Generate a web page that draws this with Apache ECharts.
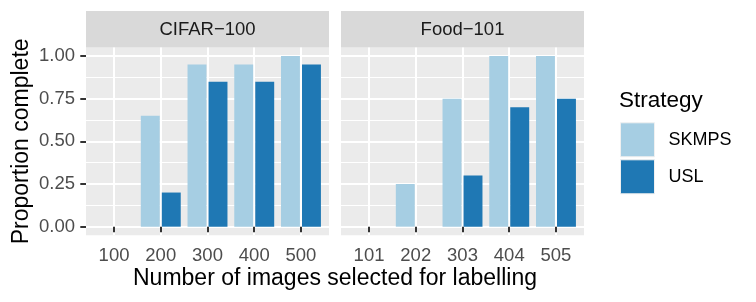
<!DOCTYPE html>
<html>
<head>
<meta charset="utf-8">
<script src="https://cdn.jsdelivr.net/npm/echarts@6/dist/echarts.min.js"></script>
<style>html,body{margin:0;padding:0;background:#fff}#c{width:756px;height:302px}</style>
</head>
<body>
<div id="c"></div>
<script>
// ---- data ----
const panelTitles = ['CIFAR\u2212100', 'Food\u2212101'];
const categoriesCifar = ['100', '200', '300', '400', '500'];
const categoriesFood = ['101', '202', '303', '404', '505'];
const skmpsCifar = [0, 0.65, 0.95, 0.95, 1.00];
const uslCifar = [0, 0.20, 0.85, 0.85, 0.95];
const skmpsFood = [0, 0.25, 0.75, 1.00, 1.00];
const uslFood = [0, 0, 0.30, 0.70, 0.75];
const strategies = ['SKMPS', 'USL'];
const xTitle = 'Number of images selected for labelling';
const yTitle = 'Proportion complete';
const legendTitle = 'Strategy';

// ---- layout ----
const FONT = 'Liberation Sans';
const colors = ['#A6CEE3', '#1F78B4'];
const panelLeft = [86, 341];
const panelW = 243;
const panelTop = 47.5;
const panelH = 187.7;
const unit = panelW / 5.2;
const lineTop = panelTop + panelH * 0.05 / 1.1;
const lineH = panelH / 1.1;
const barW = unit * 0.9 / 2 * 0.9;
const panelCats = [categoriesCifar, categoriesFood];
const panelData = [[skmpsCifar, uslCifar], [skmpsFood, uslFood]];

const grids = [], xAxes = [], yAxes = [], series = [];
panelLeft.forEach((L, p) => {
  // background grid with vertical grid lines
  grids.push({left: L, top: panelTop, width: panelW, height: panelH, show: true,
    backgroundColor: '#EBEBEB', borderWidth: 0});
  xAxes.push({gridIndex: 3 * p, type: 'value', min: 0.4, max: 5.6, minInterval: 1, maxInterval: 1,
    axisLine: {show: false}, axisTick: {show: false}, axisLabel: {show: false},
    splitLine: {show: true, showMinLine: false, showMaxLine: false, lineStyle: {color: '#FFFFFF', width: 2}}});
  yAxes.push({gridIndex: 3 * p, type: 'value', show: false});
  // horizontal grid lines + y axis
  grids.push({left: L, top: lineTop, width: panelW, height: lineH, show: false});
  xAxes.push({gridIndex: 3 * p + 1, type: 'value', show: false});
  yAxes.push({gridIndex: 3 * p + 1, type: 'value', min: 0, max: 1, interval: 0.25,
    axisLine: {show: false},
    axisTick: {show: p === 0, length: 5.7, lineStyle: {color: '#333333', width: 2}},
    axisLabel: {show: p === 0, color: '#4D4D4D', fontSize: 18.5, fontFamily: FONT, margin: 11,
      formatter: v => v.toFixed(2)},
    splitLine: {show: true, lineStyle: {color: '#FFFFFF', width: 2}},
    minorTick: {show: false, splitNumber: 2},
    minorSplitLine: {show: true, lineStyle: {color: '#FFFFFF', width: 1}}});
  // bar grid
  grids.push({left: L + 0.1 * unit, top: panelTop, width: 5 * unit, height: panelH, show: false});
  xAxes.push({gridIndex: 3 * p + 2, type: 'category', data: panelCats[p],
    axisLine: {show: false},
    axisTick: {show: true, alignWithLabel: true, length: 5.7, lineStyle: {color: '#333333', width: 2}},
    axisLabel: {color: '#4D4D4D', fontSize: 18.5, fontFamily: FONT, margin: 11},
    splitLine: {show: false}});
  yAxes.push({gridIndex: 3 * p + 2, type: 'value', min: -0.05, max: 1.05, show: false});
  strategies.forEach((s, k) => {
    series.push({type: 'bar', name: s, xAxisIndex: 3 * p + 2, yAxisIndex: 3 * p + 2,
      data: panelData[p][k], barWidth: barW, barGap: '11%',
      itemStyle: {color: colors[k]}, silent: true});
  });
});

const graphic = [];
panelLeft.forEach((L, p) => {
  graphic.push({type: 'rect', left: L, top: 11, shape: {width: panelW, height: panelTop - 11},
    style: {fill: '#D9D9D9'}, silent: true});
  graphic.push({type: 'text', x: L + panelW / 2, y: 30,
    style: {text: panelTitles[p], fill: '#1A1A1A', font: '18.5px "' + FONT + '"',
      textAlign: 'center', textVerticalAlign: 'middle'}});
});
graphic.push({type: 'text', x: (panelLeft[0] + panelLeft[1] + panelW) / 2, y: 279,
  style: {text: xTitle, fill: '#000', font: '23px "' + FONT + '"', textAlign: 'center', textVerticalAlign: 'middle'}});
graphic.push({type: 'text', x: 22, y: panelTop + panelH / 2, rotation: Math.PI / 2,
  style: {text: yTitle, fill: '#000', font: '23px "' + FONT + '"', textAlign: 'center', textVerticalAlign: 'middle'}});
graphic.push({type: 'text', x: 619, y: 100.5,
  style: {text: legendTitle, fill: '#000', font: '22.5px "' + FONT + '"', textAlign: 'left', textVerticalAlign: 'middle'}});

const chart = echarts.init(document.getElementById('c'), null, {renderer: 'canvas'});
chart.setOption({
  animation: false,
  backgroundColor: '#FFFFFF',
  textStyle: {fontFamily: FONT},
  grid: grids,
  xAxis: xAxes,
  yAxis: yAxes,
  series: series,
  legend: {
    data: strategies, orient: 'vertical', left: 620, top: 122.3, padding: 0,
    itemWidth: 34, itemHeight: 34, itemGap: 2, icon: 'rect', selectedMode: false,
    itemStyle: {borderColor: '#F0F0F0', borderWidth: 1},
    textStyle: {color: '#000', fontSize: 18, fontFamily: FONT, padding: [0, 0, 0, 9]}
  },
  graphic: graphic
});
</script>
</body>
</html>
